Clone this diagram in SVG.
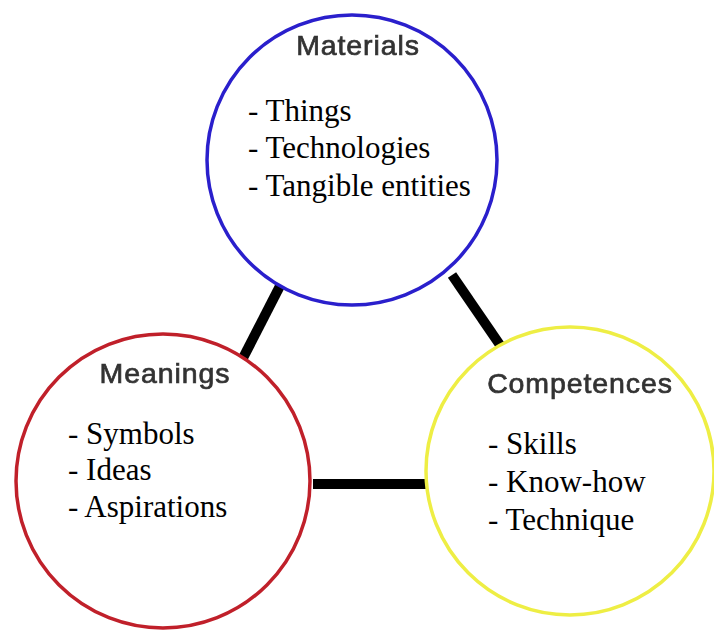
<svg xmlns="http://www.w3.org/2000/svg" width="714" height="630" viewBox="0 0 714 630">
  <defs>
    <filter id="soft" x="-5%" y="-20%" width="110%" height="140%">
      <feGaussianBlur stdDeviation="0.6"/>
    </filter>
  </defs>
  <style>
    .ring { fill: #ffffff; stroke-width: 3.5; }
    .head { font-family: "Liberation Sans", Arial, sans-serif; font-size: 28.5px; fill: #333333; stroke: #333333; stroke-width: 0.7px; text-anchor: middle; letter-spacing: 0.9px; }
    .item { font-family: "Liberation Serif", "Times New Roman", serif; font-size: 31px; fill: #000000; }
    .link { stroke: #000000; stroke-width: 10; stroke-linecap: butt; }
  </style>
  <rect width="714" height="630" fill="#ffffff"/>

  <g id="connectors">
    <line class="link" x1="281" y1="284" x2="243" y2="358"/>
    <line class="link" x1="452" y1="275" x2="500" y2="345"/>
    <line class="link" x1="313" y1="484" x2="430" y2="484"/>
  </g>

  <g id="materials">
    <circle class="ring" cx="352" cy="160" r="145" stroke="#2a1fcc"/>
    <text class="head" x="358" y="55" filter="url(#soft)">Materials</text>
    <text class="item" x="248" y="121">- Things</text>
    <text class="item" x="248" y="158">- Technologies</text>
    <text class="item" x="248" y="196">- Tangible entities</text>
  </g>

  <g id="meanings">
    <circle class="ring" cx="163" cy="481" r="147" stroke="#c0202a"/>
    <text class="head" x="165" y="383" filter="url(#soft)">Meanings</text>
    <text class="item" x="68" y="444">- Symbols</text>
    <text class="item" x="68" y="480">- Ideas</text>
    <text class="item" x="68" y="517">- Aspirations</text>
  </g>

  <g id="competences">
    <circle class="ring" cx="570" cy="471" r="144" stroke="#eeee44"/>
    <text class="head" x="580" y="393" filter="url(#soft)">Competences</text>
    <text class="item" x="488" y="454">- Skills</text>
    <text class="item" x="488" y="492">- Know-how</text>
    <text class="item" x="488" y="530">- Technique</text>
  </g>
</svg>
